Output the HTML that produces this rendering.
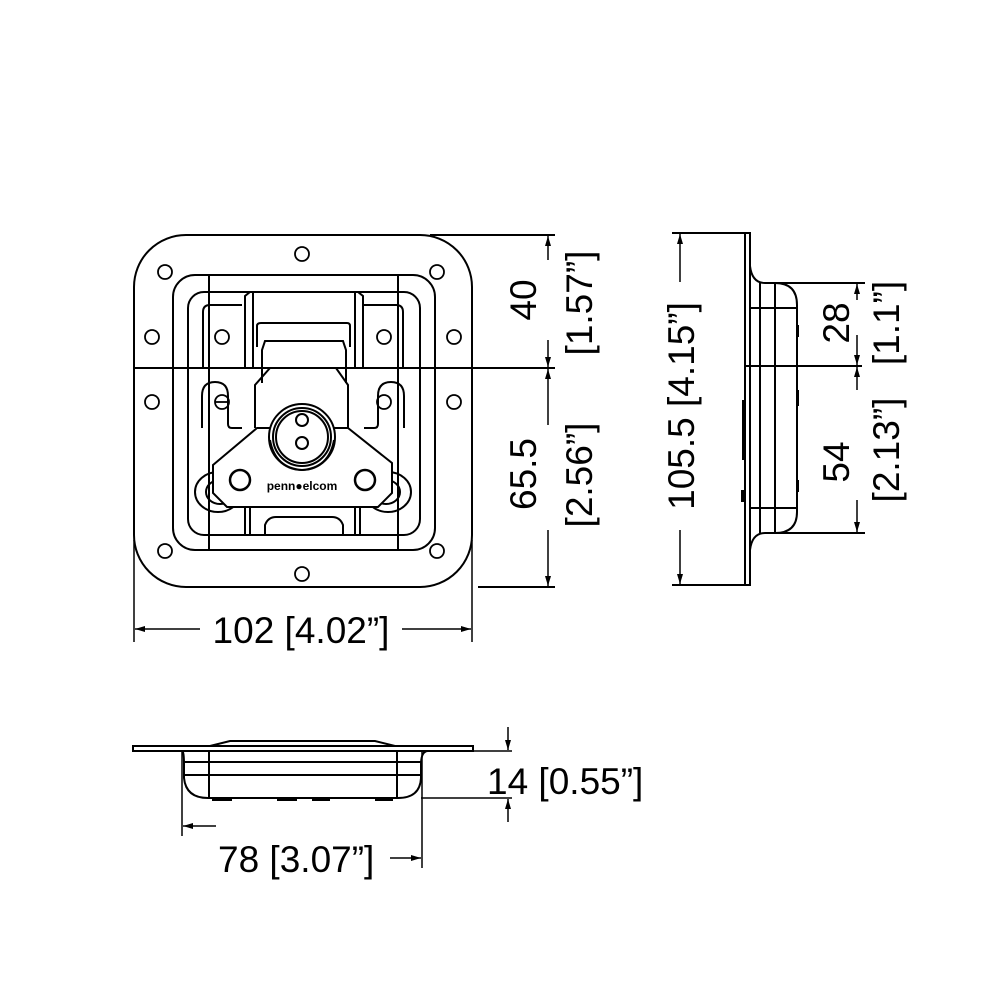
<!DOCTYPE html>
<html><head><meta charset="utf-8"><style>
html,body{margin:0;padding:0;background:#fff;}
svg{display:block;}
text{font-family:"Liberation Sans",sans-serif;fill:#000;}
</style></head><body>
<svg width="1000" height="1000" viewBox="0 0 1000 1000" xmlns="http://www.w3.org/2000/svg">
<defs>
<marker id="a" viewBox="0 0 10 10" refX="10" refY="5" markerWidth="10" markerHeight="10" orient="auto-start-reverse" markerUnits="userSpaceOnUse"><path d="M0,2 L10,5 L0,8 z" fill="#000"/></marker>
</defs>
<g fill="none" stroke="#000" stroke-width="2">
<!-- FRONT VIEW -->
<rect x="134" y="235" width="338" height="352" rx="52"/>
<rect x="173" y="275" width="262" height="275" rx="22"/>
<rect x="188" y="292" width="232" height="243" rx="16"/>
<line x1="209" y1="275" x2="209" y2="550"/>
<line x1="398" y1="275" x2="398" y2="550"/>
<line x1="134" y1="368" x2="555" y2="368"/>
<g stroke-width="1.8">
<circle cx="302" cy="254" r="7"/><circle cx="165" cy="272" r="7"/><circle cx="437" cy="272" r="7"/>
<circle cx="152" cy="337" r="7"/><circle cx="454" cy="337" r="7"/>
<circle cx="152" cy="402" r="7"/><circle cx="454" cy="402" r="7"/>
<circle cx="222" cy="337" r="7"/><circle cx="384" cy="337" r="7"/>
<circle cx="222" cy="402" r="7"/><circle cx="384" cy="402" r="7"/>
<line x1="215" y1="402" x2="229" y2="402"/>
<circle cx="165" cy="551" r="7"/><circle cx="437" cy="551" r="7"/><circle cx="302" cy="574" r="7"/>
</g>
<!-- upper hinge -->
<path d="M245,368 L245,296 L250,292 L358,292 L363,296 L363,368"/>
<line x1="253" y1="292" x2="253" y2="368"/><line x1="355" y1="292" x2="355" y2="368"/>
<path d="M203,368 L203,312 Q203,305 210,305 L242,305 M403,368 L403,312 Q403,305 396,305 L363,305"/>
<path d="M257,347 L257,326 Q257,323 261,323 L347,323 Q350,323 350,326 L350,347"/>
<path d="M262,383 L262,350 L265,341 L343,341 L346,350 L346,383"/>
<path d="M255,428 L255,385 L270,368 L336,368 L348,385 L348,428"/>
<!-- side ears -->
<path d="M242,428 L232,428 Q228,428 228,424 L228,396 Q228,382 215,382 Q202,382 202,396 L202,428"/>
<path d="M364,428 L374,428 Q378,428 378,424 L378,396 Q378,382 391,382 Q404,382 404,396 L404,428"/>
<!-- lobes -->
<ellipse cx="218" cy="492" rx="23" ry="20"/><ellipse cx="220" cy="492" rx="14" ry="12"/>
<ellipse cx="388" cy="492" rx="23" ry="20"/><ellipse cx="386" cy="492" rx="14" ry="12"/>
<!-- bottom piece -->
<path d="M245,507 L245,535 L360,535 L360,507"/>
<line x1="250" y1="507" x2="250" y2="535"/><line x1="355" y1="507" x2="355" y2="535"/>
<path d="M265,535 L265,525 Q268,517 276,517 L332,517 Q340,517 343,525 L343,535"/>
<!-- hex plate -->
<path d="M213,465 L257,428 L348,428 L392,463 L392,493 L378,507 L227,507 L213,493 Z" fill="#fff"/>
<circle cx="302" cy="437" r="33" fill="#fff"/>
<circle cx="302" cy="437" r="29"/><circle cx="302" cy="437" r="26"/>
<path d="M270,440 Q275,468 302,470 Q329,468 334,440"/>
<circle cx="302" cy="420" r="6"/><circle cx="302" cy="443" r="6"/>
<circle cx="240" cy="480" r="10" stroke-width="2.5"/><circle cx="365" cy="480" r="10" stroke-width="2.5"/>
<!-- dims front -->
<line x1="430" y1="235" x2="555" y2="235"/>
<line x1="478" y1="587" x2="555" y2="587"/>
<line x1="548" y1="260" x2="548" y2="236" stroke-width="1.5" marker-end="url(#a)"/>
<line x1="548" y1="340" x2="548" y2="367" stroke-width="1.5" marker-end="url(#a)"/>
<line x1="548" y1="425" x2="548" y2="369" stroke-width="1.5" marker-end="url(#a)"/>
<line x1="548" y1="530" x2="548" y2="586" stroke-width="1.5" marker-end="url(#a)"/>
<line x1="134" y1="540" x2="134" y2="642" stroke-width="1.5"/>
<line x1="472" y1="540" x2="472" y2="642" stroke-width="1.5"/>
<line x1="200" y1="629" x2="135" y2="629" stroke-width="1.5" marker-end="url(#a)"/>
<line x1="402" y1="629" x2="471" y2="629" stroke-width="1.5" marker-end="url(#a)"/>

<!-- SIDE VIEW -->
<rect x="745" y="233" width="5" height="352"/>
<path d="M750,266 Q752,283 765,283 L775,283 Q797,283 797,305 L797,512 Q797,533 775,533 L765,533 Q752,533 750,550"/>
<line x1="760" y1="283" x2="760" y2="533"/><line x1="775" y1="283" x2="775" y2="533"/>
<line x1="750" y1="308" x2="797" y2="308"/><line x1="750" y1="508" x2="797" y2="508"/>
<line x1="745" y1="366" x2="862" y2="366"/>
<line x1="775" y1="283" x2="865" y2="283"/><line x1="775" y1="533" x2="865" y2="533"/>
<line x1="672" y1="233" x2="745" y2="233"/><line x1="672" y1="585" x2="745" y2="585"/>
<line x1="680" y1="282" x2="680" y2="234" stroke-width="1.5" marker-end="url(#a)"/>
<line x1="680" y1="530" x2="680" y2="584" stroke-width="1.5" marker-end="url(#a)"/>
<line x1="857" y1="300" x2="857" y2="284" stroke-width="1.5" marker-end="url(#a)"/>
<line x1="857" y1="335" x2="857" y2="365" stroke-width="1.5" marker-end="url(#a)"/>
<line x1="857" y1="390" x2="857" y2="367" stroke-width="1.5" marker-end="url(#a)"/>
<line x1="857" y1="500" x2="857" y2="532" stroke-width="1.5" marker-end="url(#a)"/>
<g fill="#000" stroke="none">
<rect x="796" y="325" width="3" height="12"/><rect x="796" y="390" width="3" height="16"/><rect x="796" y="480" width="3" height="12"/>
<rect x="742" y="400" width="3" height="60"/><rect x="741" y="490" width="4" height="12"/>
</g>

<!-- BOTTOM VIEW -->
<rect x="133" y="746" width="340" height="5"/>
<path d="M182,751 Q184,751 184,765 L184,778 Q186,798 208,798 L398,798 Q420,798 421,778 L421,765 Q421,751 428,751"/>
<line x1="209" y1="751" x2="209" y2="798"/><line x1="397" y1="751" x2="397" y2="798"/>
<line x1="184" y1="762" x2="421" y2="762"/><line x1="184" y1="775" x2="421" y2="775"/>
<path d="M210,746 L230,741 L375,741 L395,746"/>
<line x1="182" y1="751" x2="182" y2="836" stroke-width="1.5"/>
<line x1="422" y1="751" x2="422" y2="868" stroke-width="1.5"/>
<line x1="473" y1="751" x2="512" y2="751" stroke-width="1.5"/>
<line x1="421" y1="798" x2="512" y2="798" stroke-width="1.5"/>
<line x1="508" y1="727" x2="508" y2="750" stroke-width="1.5" marker-end="url(#a)"/>
<line x1="508" y1="822" x2="508" y2="799" stroke-width="1.5" marker-end="url(#a)"/>
<line x1="216" y1="826" x2="183" y2="826" stroke-width="1.5" marker-end="url(#a)"/>
<line x1="390" y1="858" x2="421" y2="858" stroke-width="1.5" marker-end="url(#a)"/>
<g fill="#000" stroke="none">
<rect x="212" y="798" width="20" height="3"/><rect x="277" y="798" width="20" height="3"/><rect x="312" y="798" width="18" height="3"/><rect x="375" y="798" width="18" height="3"/>
</g>
</g>

<!-- TEXT -->
<text x="302" y="490" font-size="12" font-weight="bold" text-anchor="middle">penn●elcom</text>
<text x="301" y="643" font-size="37" text-anchor="middle">102 [4.02”]</text>
<text transform="translate(536,300) rotate(-90)" font-size="37" text-anchor="middle">40</text>
<text transform="translate(592,303) rotate(-90)" font-size="37" text-anchor="middle">[1.57”]</text>
<text transform="translate(536,474) rotate(-90)" font-size="37" text-anchor="middle">65.5</text>
<text transform="translate(592,475) rotate(-90)" font-size="37" text-anchor="middle">[2.56”]</text>
<text transform="translate(694,406) rotate(-90)" font-size="37" text-anchor="middle">105.5 [4.15”]</text>
<text transform="translate(849,323) rotate(-90)" font-size="37" text-anchor="middle">28</text>
<text transform="translate(899,323) rotate(-90)" font-size="37" text-anchor="middle">[1.1”]</text>
<text transform="translate(849,462) rotate(-90)" font-size="37" text-anchor="middle">54</text>
<text transform="translate(899,450) rotate(-90)" font-size="37" text-anchor="middle">[2.13”]</text>
<text x="487" y="794" font-size="37">14 [0.55”]</text>
<text x="218" y="872" font-size="37">78 [3.07”]</text>
</svg>
</body></html>
